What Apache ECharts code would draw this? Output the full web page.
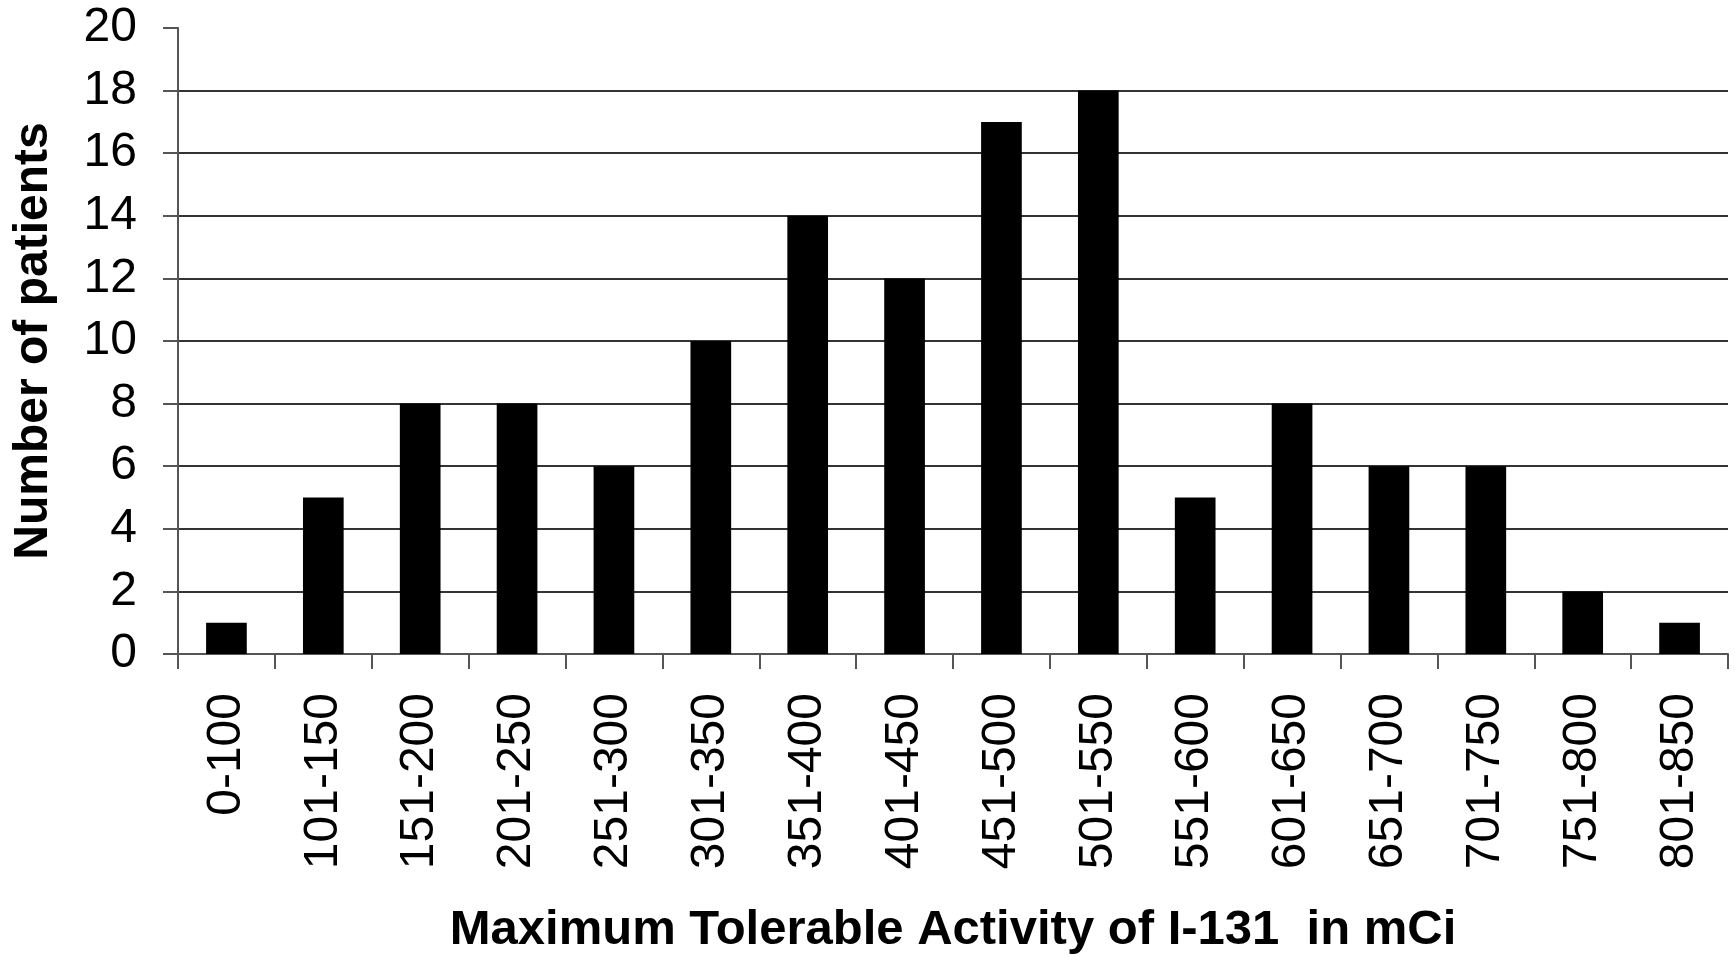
<!DOCTYPE html>
<html>
<head>
<meta charset="utf-8">
<script src="https://cdn.jsdelivr.net/npm/echarts@6/dist/echarts.min.js"></script>
<style>
html,body{margin:0;padding:0;background:#fff;}
#chart{width:1735px;height:960px;}
</style>
</head>
<body>
<div id="chart"></div>
<script>
const categories = ['0-100','101-150','151-200','201-250','251-300','301-350','351-400','401-450','451-500','501-550','551-600','601-650','651-700','701-750','751-800','801-850'];
const patients = [1,5,8,8,6,10,14,12,17,18,5,8,6,6,2,1];
const yTicks = {min:0, max:20, interval:2};
const xTitle = 'Maximum Tolerable Activity of I-131  in mCi';
const yTitle = 'Number of patients';

const font = 'Arial, "Liberation Sans", sans-serif';
const chart = echarts.init(document.getElementById('chart'), null, {renderer:'canvas'});
chart.setOption({
  animation:false,
  backgroundColor:'#fff',
  grid:{left:178, right:7, top:28, bottom:293, containLabel:false},
  xAxis:{
    type:'category',
    data:categories,
    name:xTitle,
    nameLocation:'middle',
    nameGap:252,
    nameTextStyle:{fontFamily:font, fontSize:49, fontWeight:'bold', color:'#000'},
    axisLine:{show:true, lineStyle:{color:'#555', width:2}},
    axisTick:{show:true, length:15, alignWithLabel:false, lineStyle:{color:'#555', width:2}},
    axisLabel:{rotate:90, margin:39, fontFamily:font, fontSize:48, color:'#000', interval:0}
  },
  yAxis:{
    type:'value',
    min:yTicks.min, max:yTicks.max, interval:yTicks.interval,
    name:yTitle,
    nameLocation:'middle',
    nameGap:120,
    nameTextStyle:{fontFamily:font, fontSize:48, fontWeight:'bold', color:'#000'},
    axisLine:{show:true, lineStyle:{color:'#555', width:2}},
    axisTick:{show:true, length:15, lineStyle:{color:'#555', width:2}},
    axisLabel:{margin:41, fontFamily:font, fontSize:48, color:'#000'},
    splitLine:{show:true, showMaxLine:false, lineStyle:{color:'#333', width:2}}
  },
  series:[{
    type:'bar',
    data:patients,
    barWidth:'42%',
    itemStyle:{color:'#000'}
  }]
});
</script>
</body>
</html>
